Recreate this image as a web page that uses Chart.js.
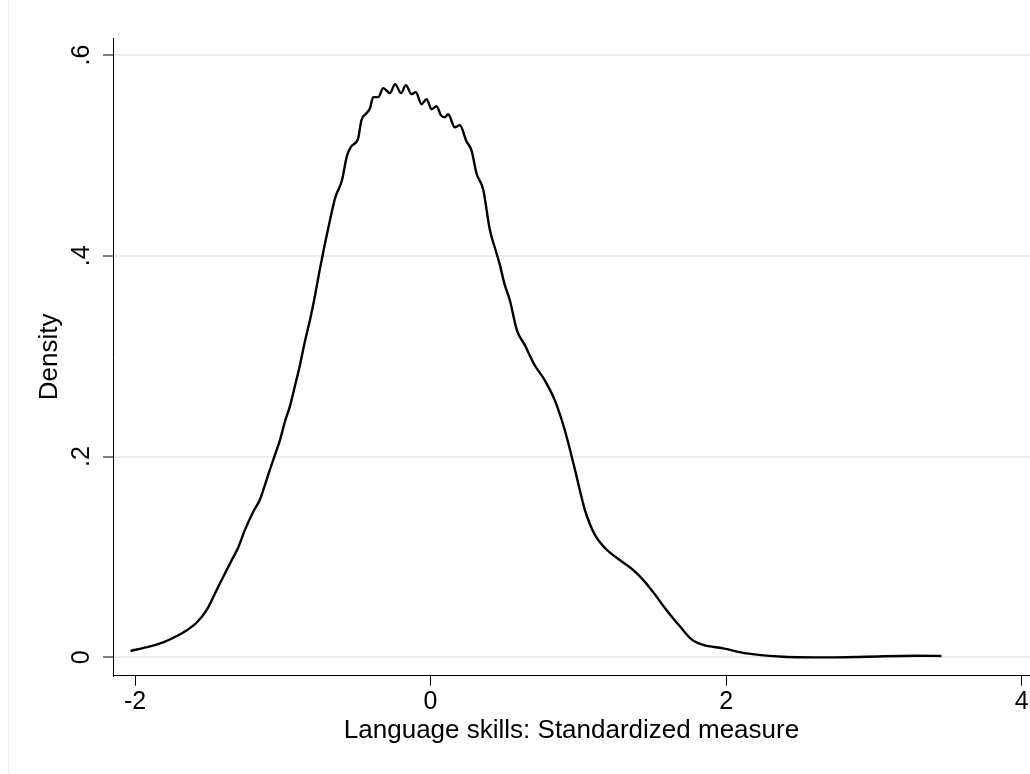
<!DOCTYPE html>
<html>
<head>
<meta charset="utf-8">
<script src="https://cdn.jsdelivr.net/npm/chart.js@4/dist/chart.umd.min.js"></script>
<style>
  body { margin: 0; background: #fff; }
  #wrap { width: 1030px; height: 774px; position: relative; }
</style>
</head>
<body>
<div id="wrap"><canvas id="kdens"></canvas></div>
<script>
// kernel density of language skills
const densityX = [
  -2.03, -1.9, -1.81, -1.74, -1.66, -1.58, -1.516, -1.448, -1.39, -1.345,
  -1.30, -1.256, -1.20, -1.155, -1.12, -1.087, -1.05, -1.02, -0.985, -0.95,
  -0.915, -0.884, -0.85, -0.816, -0.78, -0.75, -0.715, -0.68, -0.645, -0.60,
  -0.565, -0.536, -0.49, -0.468, -0.434, -0.41, -0.388, -0.354, -0.32, -0.275,
  -0.24, -0.2, -0.167, -0.129, -0.1, -0.061, -0.027, 0.007, 0.04, 0.07,
  0.097, 0.119, 0.164, 0.198, 0.243, 0.277, 0.311, 0.356, 0.401, 0.435,
  0.469, 0.50, 0.536, 0.584, 0.638, 0.705, 0.773, 0.841, 0.909, 0.977,
  1.044, 1.112, 1.18, 1.28, 1.372, 1.44, 1.506, 1.597, 1.687, 1.766,
  1.845, 1.98, 2.138, 2.386, 2.70, 2.95, 3.29, 3.457
];
const densityY = [
  0.0064, 0.011, 0.015, 0.0196, 0.026, 0.035, 0.047, 0.067, 0.084, 0.097,
  0.110, 0.127, 0.145, 0.157, 0.172, 0.187, 0.203, 0.216, 0.235, 0.251,
  0.272, 0.291, 0.315, 0.336, 0.362, 0.386, 0.412, 0.436, 0.458, 0.475,
  0.500, 0.509, 0.517, 0.535, 0.542, 0.547, 0.558, 0.558, 0.567, 0.562,
  0.571, 0.562, 0.570, 0.561, 0.563, 0.551, 0.556, 0.546, 0.549, 0.540,
  0.538, 0.541, 0.528, 0.530, 0.514, 0.505, 0.482, 0.466, 0.426, 0.408,
  0.391, 0.372, 0.356, 0.326, 0.311, 0.291, 0.276, 0.256, 0.226, 0.187,
  0.147, 0.122, 0.109, 0.097, 0.087, 0.077, 0.065, 0.047, 0.031, 0.018,
  0.0124, 0.009, 0.004, 0.0007, 0.0, 0.0007, 0.0017, 0.0014
];
const xTicks = [-2, 0, 2, 4];
const yTicks = [0, 0.2, 0.4, 0.6];
const xTitle = 'Language skills: Standardized measure';
const yTitle = 'Density';

const FONT = "'Liberation Sans', Arial, sans-serif";
const gridColor = '#e6eff0';

// thin light frame line at the left edge of the graph region
const frameLine = {
  id: 'frameLine',
  beforeDraw(chart) {
    const ctx = chart.ctx;
    ctx.save();
    ctx.fillStyle = '#fff';
    ctx.fillRect(0, 0, chart.width, chart.height);
    ctx.strokeStyle = '#e8f0f1';
    ctx.lineWidth = 1;
    ctx.beginPath();
    ctx.moveTo(8.5, 0);
    ctx.lineTo(8.5, chart.height);
    ctx.stroke();
    ctx.restore();
  }
};

const points = densityX.map((x, i) => ({ x: x, y: densityY[i] }));

new Chart(document.getElementById('kdens'), {
  type: 'line',
  data: {
    datasets: [{
      data: points,
      borderColor: '#000',
      borderWidth: 2.4,
      pointRadius: 0,
      cubicInterpolationMode: 'monotone',
      fill: false,
      borderJoinStyle: 'round'
    }]
  },
  options: {
    responsive: true,
    maintainAspectRatio: false,
    animation: false,
    layout: { padding: { top: 38, left: 0, right: 0, bottom: 0 } },
    plugins: { legend: { display: false }, tooltip: { enabled: false } },
    scales: {
      x: {
        type: 'linear',
        min: -2.1489,
        max: 4.0562,
        afterBuildTicks: s => { s.ticks = xTicks.map(v => ({ value: v })); },
        afterFit: s => { s.height = 98.3; },
        border: { display: true, color: '#000', width: 1 },
        grid: { drawOnChartArea: false, drawTicks: true, tickLength: 10, tickColor: '#000', tickWidth: 1 },
        ticks: {
          padding: 1,
          color: '#000',
          font: { family: FONT, size: 25, lineHeight: 1.2 },
          maxRotation: 0,
          callback: v => String(v)
        },
        title: {
          display: true,
          text: xTitle,
          color: '#000',
          font: { family: FONT, size: 26, lineHeight: 1.2 },
          padding: { top: 0, bottom: 28 }
        }
      },
      y: {
        type: 'linear',
        min: -0.01823,
        max: 0.61693,
        afterBuildTicks: s => { s.ticks = yTicks.map(v => ({ value: v })); },
        afterFit: s => { s.width = 113; },
        border: { display: true, color: '#000', width: 1 },
        grid: { color: gridColor, lineWidth: 2, drawTicks: true, tickLength: 10, tickColor: '#000', tickWidth: 1 },
        ticks: {
          padding: 10.6,
          color: '#000',
          minRotation: 90,
          maxRotation: 90,
          crossAlign: 'center',
          font: { family: FONT, size: 25, lineHeight: 1.2 },
          callback: v => (v === 0 ? '0' : String(v).replace(/^0/, ''))
        },
        title: {
          display: true,
          text: yTitle,
          color: '#000',
          font: { family: FONT, size: 26, lineHeight: 1.2 },
          padding: { top: 34, bottom: 0 }
        }
      }
    }
  },
  plugins: [frameLine]
});
</script>
</body>
</html>
